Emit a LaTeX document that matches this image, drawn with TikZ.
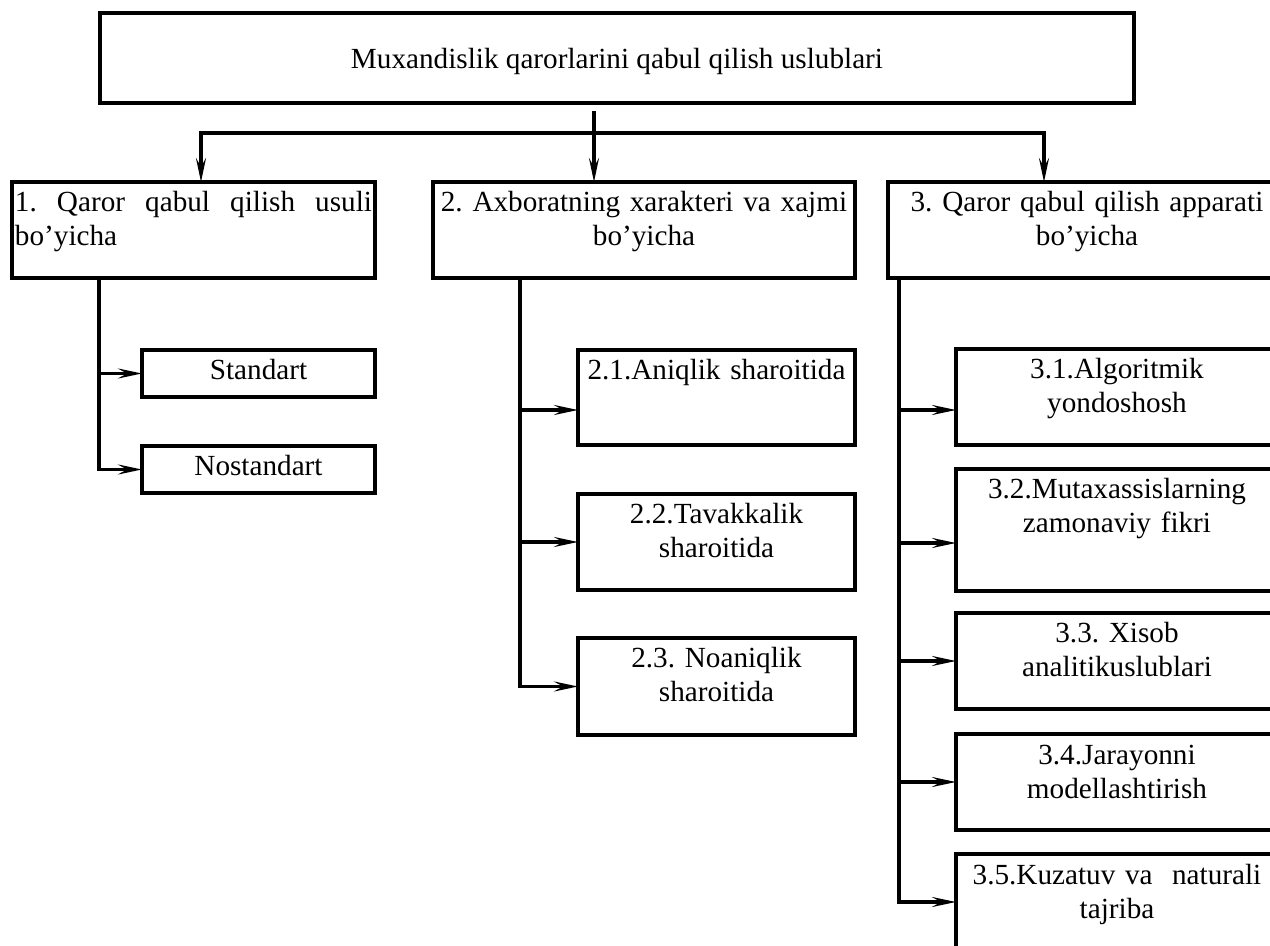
\documentclass[tikz,border=0pt]{standalone}
\usepackage{fontspec}
\setmainfont{Liberation Serif}
\usepackage{tikz}
\usetikzlibrary{arrows.meta}
\usetikzlibrary{positioning}
\frenchspacing
\tikzset{
    mybox/.style = {rectangle, draw=black, line width=1.8pt, outer sep=0pt, anchor=north west, align=center, inner xsep=1.5pt, inner ysep=4pt, text height=11pt},
    mytitle/.style = {rectangle, draw=black, line width=1.8pt, outer sep=0pt, anchor=north west, minimum width=517pt, inner sep=0pt, text height=28pt, text depth=17pt},
    grp/.style = {mybox, text depth=29pt},
    sub1/.style = {mybox, text width=113.5pt, text depth=4.5pt},
    sub2/.style = {mybox, text width=135.5pt, text depth=29pt},
    sub3/.style = {mybox, text width=158pt, text depth=29pt},
    myarrow/.style = {line width=1.6pt, -{Stealth[length=12pt, width=5pt, inset=4.5pt]}},
}
\begin{document}
\begin{tikzpicture}[x=0.5pt, y=-0.5pt, font=\fontsize{14.6pt}{17pt}\selectfont]
  \useasboundingbox (0,0) rectangle (1270,946);
  % title
  \node[mytitle] (title) at (100,13) {Muxandislik qarorlarini qabul qilish uslublari};
  % groups
  \node[grp, text width=178.5pt, align=justify] (b1) at (12,182) {1. Qaror qabul qilish usuli bo’yicha};
  \node[grp, text width=208pt] (b2) at (433,182) {2. Axboratning xarakteri va xajmi\\bo’yicha};
  \node[grp, text width=196pt] (b3) at (888,182) {3. Qaror qabul qilish apparati\\bo’yicha};
  % group 1
  \node[sub1] (s1) at (142,350) {Standart};
  \node[sub1] (s2) at (142,446) {Nostandart};
  % group 2
  \node[sub2, text depth=28.5pt] (a1) at (578,350) {2.1.Aniqlik sharoitida};
  \node[sub2] (a2) at (578,494) {2.2.Tavakkalik\\sharoitida};
  \node[sub2, text depth=29.5pt] (a3) at (578,638) {2.3. Noaniqlik\\sharoitida};
  % group 3
  \node[sub3] (c1) at (956,349) {3.1.Algoritmik\\yondoshosh};
  \node[sub3, text depth=42pt] (c2) at (956,469) {3.2.Mutaxassislarning\\zamonaviy fikri};
  \node[sub3] (c3) at (956,613) {3.3. Xisob\\analitikuslublari};
  \node[sub3] (c4) at (956,734) {3.4.Jarayonni\\modellashtirish};
  \node[sub3] (c5) at (956,854) {3.5.Kuzatuv va\ \ naturali\\tajriba};

  \coordinate (hub) at (594,133);
  \coordinate (lt) at (201,133);
  \coordinate (rt) at (1044,133);
  \coordinate (t1) at (99,0);
  \coordinate (t2) at (520,0);
  \coordinate (t3) at (899,0);
  \coordinate (a1in) at ([yshift=-6.25pt]a1.west);
  \coordinate (c1in) at ([yshift=-6.5pt]c1.west);
  \coordinate (c2in) at ([yshift=-6.5pt]c2.west);

  \draw[myarrow] (hub |- title.south) ++(0,8) -- (hub |- b2.north);
  \draw[myarrow] (hub) -| (lt |- b1.north);
  \draw[myarrow] (hub) -| (rt |- b3.north);

  \draw[myarrow] (t1 |- b1.south) |- (s2.west);
  \draw[myarrow] (t1 |- s1.west) -- (s1.west);

  \draw[myarrow] (t2 |- b2.south) |- (a3.west);
  \draw[myarrow] (t2 |- a1in) -- (a1in);
  \draw[myarrow] (t2 |- a2.west) -- (a2.west);

  \draw[myarrow] (t3 |- b3.south) |- (c5.west);
  \draw[myarrow] (t3 |- c1in) -- (c1in);
  \draw[myarrow] (t3 |- c2in) -- (c2in);
  \draw[myarrow] (t3 |- c3.west) -- (c3.west);
  \draw[myarrow] (t3 |- c4.west) -- (c4.west);
\end{tikzpicture}
\end{document}
